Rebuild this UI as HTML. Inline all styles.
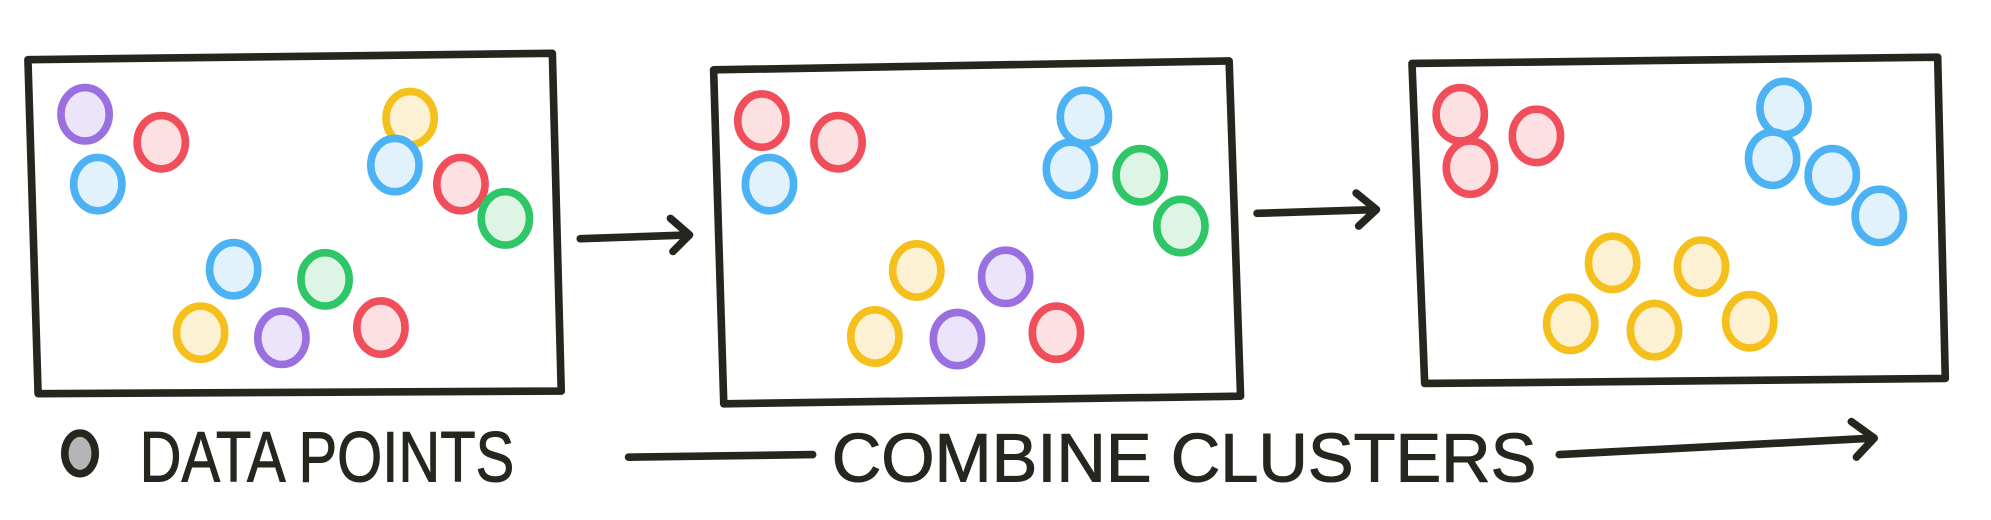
<!DOCTYPE html>
<html><head><meta charset="utf-8"><style>
html,body{margin:0;padding:0;background:#fff;}
svg{display:block;}
</style></head><body>
<svg id="fig" width="1991" height="520" viewBox="0 0 1568 409.5" preserveAspectRatio="none" xmlns="http://www.w3.org/2000/svg">
<g id="frames"></g>
<g id="pts"></g>
<g stroke="#26261f" stroke-width="6" fill="none" stroke-linecap="round" stroke-linejoin="round">
<path d="M457 188 L543 185 M528 172 L543 185 L530 198"/>
</g>
<g stroke="#26261f" stroke-width="6" fill="none" stroke-linecap="round" stroke-linejoin="round">
<path d="M990 168 L1084 165 M1068 152 L1084 165 L1070 178"/>
</g>
<g>
<ellipse cx="63" cy="357" rx="12" ry="16" fill="#b5b5b5" stroke="#26261f" stroke-width="6"/>
<text x="110" y="379" font-family="Liberation Sans Narrow, Liberation Sans, sans-serif" font-size="56" fill="#26261f" stroke="#26261f" stroke-width="0.8" textLength="295" lengthAdjust="spacingAndGlyphs">DATA POINTS</text>
</g>
<g stroke="#26261f" stroke-width="6" fill="none" stroke-linecap="round" stroke-linejoin="round">
<path d="M495 360 L640 358"/>
<path d="M1228 358 L1476 345 M1458 332 L1476 345 L1462 360"/>
</g>
<text x="655" y="379" font-family="Liberation Sans Narrow, Liberation Sans, sans-serif" font-size="54" fill="#26261f" stroke="#26261f" stroke-width="0.8" textLength="555" lengthAdjust="spacingAndGlyphs">COMBINE CLUSTERS</text>
</svg>
<script>
const framePanels = [
  [[22,47],[435,42],[442,308],[30,310]],
  [[562,55],[968,48],[977,312],[570,318]],
  [[1112,50],[1526,45],[1532,298],[1122,302]]
];
const panel1Points = [
  [67,90,'purple'],[127,112,'red'],[77,145,'blue'],[323,93,'yellow'],[311,130,'blue'],[363,145,'red'],
  [398,172,'green'],[184,212,'blue'],[256,220,'green'],[158,262,'yellow'],[222,266,'purple'],[300,258,'red']
];
const panel2Points = [
  [600,95,'red'],[660,112,'red'],[606,145,'blue'],[854,92,'blue'],[843,133,'blue'],[898,138,'green'],
  [930,178,'green'],[722,213,'yellow'],[792,218,'purple'],[689,265,'yellow'],[754,267,'purple'],[832,262,'red']
];
const panel3Points = [
  [1150,90,'red'],[1210,107,'red'],[1158,132,'red'],[1405,85,'blue'],[1396,125,'blue'],[1443,138,'blue'],
  [1480,170,'blue'],[1270,207,'yellow'],[1340,210,'yellow'],[1237,255,'yellow'],[1303,260,'yellow'],[1378,253,'yellow']
];
const colors = {purple:'#9a6fe0',red:'#f04e5a',blue:'#4cb2f4',yellow:'#f5c01c',green:'#2ec666'};
const fills = {purple:'#ece4fa',red:'#fde0e2',blue:'#e2f2fd',yellow:'#fcf1d2',green:'#def5e6'};
const NS='http://www.w3.org/2000/svg';
const fg=document.getElementById('frames');
framePanels.forEach((p,i)=>{
  const el=document.createElementNS(NS,'polygon');
  el.setAttribute('points',p.map(q=>q.join(',')).join(' '));
  el.setAttribute('fill','none');el.setAttribute('stroke','#26261f');
  el.setAttribute('stroke-width','6');el.setAttribute('stroke-linejoin','round');
  
  
  fg.appendChild(el);
});
const pg=document.getElementById('pts');
[panel1Points,panel2Points,panel3Points].forEach((arr,pi)=>{
  arr.forEach(d=>{
    const el=document.createElementNS(NS,'ellipse');
    el.setAttribute('cx',d[0]);el.setAttribute('cy',d[1]);
    el.setAttribute('rx',19);el.setAttribute('ry',21);
    el.setAttribute('fill',fills[d[2]]);el.setAttribute('stroke',colors[d[2]]);
    el.setAttribute('stroke-width','6');
    
    
    pg.appendChild(el);
  });
});
</script>
</body></html>
